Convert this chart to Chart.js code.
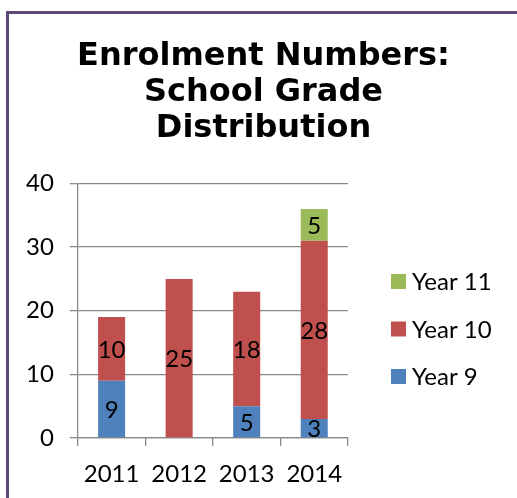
<!DOCTYPE html>
<html>
<head>
<meta charset="utf-8">
<script src="https://cdn.jsdelivr.net/npm/chart.js@4"></script>
<style>
  html, body { margin: 0; padding: 0; background: #ffffff; }
  #wrap { position: relative; width: 517px; height: 498px; overflow: hidden; }
  #frame { position: absolute; left: 6px; top: 11px; width: 620px; height: 620px; border: 3px solid #5F497A; box-sizing: border-box; }
  canvas { position: absolute; left: 0; top: 0; }
</style>
</head>
<body>
<div id="wrap">
  <div id="frame"></div>
  <canvas id="c" width="517" height="498"></canvas>
</div>
<script>
const categories = ['2011', '2012', '2013', '2014'];
const seriesNames = ['Year 9', 'Year 10', 'Year 11'];
const year9 = [9, 0, 5, 3];
const year10 = [10, 25, 18, 28];
const year11 = [0, 0, 0, 5];
const titleLines = ['Enrolment Numbers:', 'School Grade', 'Distribution'];
const yTicks = [0, 10, 20, 30, 40];

const colors = ['#4F81BD', '#C0504D', '#9BBB59'];
const labelFont = 'Lato';
const gridColor = '#898989';

const barLabels = {
  id: 'barLabels',
  afterDatasetsDraw(chart) {
    const ctx = chart.ctx;
    ctx.save();
    ctx.font = '24px ' + labelFont;
    ctx.fillStyle = '#000000';
    ctx.textAlign = 'center';
    ctx.textBaseline = 'middle';
    chart.data.datasets.forEach((ds, di) => {
      const meta = chart.getDatasetMeta(di);
      meta.data.forEach((el, i) => {
        const v = ds.data[i];
        if (!v) return;
        const p = el.getCenterPoint();
        ctx.fillText(String(v), p.x, p.y + 1);
      });
    });
    ctx.restore();
  }
};

// Legend drawn to the right of the plot, listing datasets in reverse order
const sideLegend = {
  id: 'sideLegend',
  afterDraw(chart) {
    const ctx = chart.ctx;
    const area = chart.chartArea;
    const ds = chart.data.datasets.slice().reverse();
    const x0 = area.right + 43;
    const yMid = 329;
    const step = 47.5;
    const box = 15;
    ctx.save();
    ctx.font = '24px ' + labelFont;
    ctx.textAlign = 'left';
    ctx.textBaseline = 'middle';
    ds.forEach((d, i) => {
      const cy = yMid + (i - (ds.length - 1) / 2) * step;
      ctx.fillStyle = d.backgroundColor;
      ctx.fillRect(x0, cy - box / 2, box, box);
      ctx.fillStyle = '#000000';
      ctx.fillText(d.label, x0 + box + 6, cy + 1);
    });
    ctx.restore();
  }
};

new Chart(document.getElementById('c'), {
  type: 'bar',
  data: {
    labels: categories,
    datasets: [
      { label: seriesNames[0], data: year9, backgroundColor: colors[0] },
      { label: seriesNames[1], data: year10, backgroundColor: colors[1] },
      { label: seriesNames[2], data: year11, backgroundColor: colors[2] }
    ]
  },
  options: {
    responsive: false,
    animation: false,
    events: [],
    layout: { padding: { top: 29, left: 10, right: 0, bottom: 0 } },
    datasets: { bar: { categoryPercentage: 1.0, barPercentage: 0.4 } },
    plugins: {
      title: {
        display: true,
        text: titleLines,
        color: '#000000',
        font: { family: 'DejaVu Sans', weight: 'bold', size: 32, lineHeight: 1.125 },
        padding: { top: 10, bottom: 36.5 }
      },
      legend: { display: false },
      tooltip: { enabled: false }
    },
    scales: {
      x: {
        stacked: true,
        grid: { display: true, drawOnChartArea: false, drawTicks: true, tickLength: 8, color: gridColor, offset: true, lineWidth: 1.3 },
        border: { display: true, color: gridColor, width: 1.3 },
        ticks: { color: '#000000', font: { family: labelFont, size: 24 }, padding: 14 },
        afterFit(s) { s.height = 60; }
      },
      y: {
        stacked: true,
        min: 0,
        max: 40,
        afterBuildTicks(s) { s.ticks = yTicks.map(v => ({ value: v })); },
        grid: { color: gridColor, lineWidth: 1.3, tickLength: 8 },
        border: { display: true, color: gridColor, width: 1.3 },
        ticks: { color: '#000000', font: { family: labelFont, size: 24 }, padding: 16 }
      },
      legendSpace: {
        type: 'linear',
        position: 'right',
        display: true,
        grid: { display: false, drawTicks: false },
        border: { display: false },
        ticks: { display: false },
        afterFit(s) { s.width = 169; }
      }
    }
  },
  plugins: [barLabels, sideLegend]
});
</script>
</body>
</html>
